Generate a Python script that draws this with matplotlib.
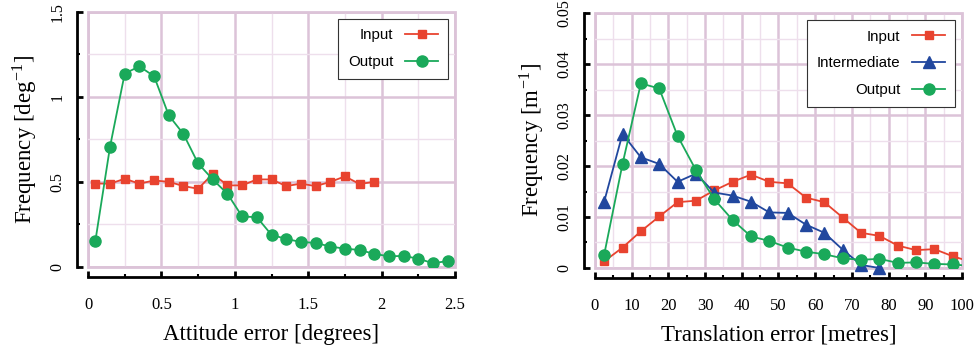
import matplotlib.pyplot as plt
from matplotlib.patches import Rectangle
from matplotlib.ticker import MultipleLocator

plt.rcParams["font.family"] = "Liberation Serif"
plt.rcParams["mathtext.fontset"] = "stix"

grid_major = '#dcc3d8'
grid_minor = '#eedfec'
red = '#e8432f'
green = '#1aa95a'
blue = '#21479e'

# attitude error histogram (bin centres, degrees)
att_x = [0.05, 0.15, 0.25, 0.35, 0.45, 0.55, 0.65, 0.75, 0.85, 0.95,
         1.05, 1.15, 1.25, 1.35, 1.45, 1.55, 1.65, 1.75, 1.85, 1.95,
         2.05, 2.15, 2.25, 2.35, 2.45]
att_input = [0.491, 0.49, 0.519, 0.49, 0.509, 0.501, 0.476, 0.46, 0.548, 0.48,
             0.48, 0.515, 0.515, 0.476, 0.49, 0.476, 0.50, 0.533, 0.488, 0.501]
att_output = [0.153, 0.708, 1.138, 1.18, 1.122, 0.892, 0.782, 0.609, 0.515, 0.43,
              0.297, 0.293, 0.189, 0.165, 0.147, 0.142, 0.12, 0.108, 0.10, 0.077,
              0.063, 0.065, 0.049, 0.022, 0.035]

# translation error histogram (bin centres, metres)
tr_x = [2.5, 7.5, 12.5, 17.5, 22.5, 27.5, 32.5, 37.5, 42.5, 47.5,
        52.5, 57.5, 62.5, 67.5, 72.5, 77.5, 82.5, 87.5, 92.5, 97.5, 102.5]
tr_input = [0.0013, 0.004, 0.0072, 0.0101, 0.0129, 0.0132, 0.0152, 0.0169, 0.0183, 0.0169,
            0.0166, 0.0138, 0.0129, 0.0099, 0.0069, 0.0063, 0.0044, 0.0035, 0.0037, 0.0023, 0.0012]
tr_inter = [0.013, 0.0263, 0.0217, 0.0204, 0.0169, 0.0185, 0.0148, 0.0142, 0.013, 0.0109,
            0.0108, 0.0085, 0.0069, 0.0036, 0.0006, 0.0]
tr_output = [0.0026, 0.0204, 0.0362, 0.0352, 0.0259, 0.0192, 0.0135, 0.0094, 0.0062, 0.0053,
             0.004, 0.0032, 0.0027, 0.0019, 0.0016, 0.0018, 0.001, 0.0011, 0.0008, 0.0007, 0.0004]


def style_axes(ax, xmaj, xmin, ymaj, ymin):
    for side in ['top', 'right']:
        ax.spines[side].set_visible(False)
    ax.spines['left'].set_position(('outward', 8))
    ax.spines['bottom'].set_position(('outward', 7.5))
    for side in ['left', 'bottom']:
        ax.spines[side].set_linewidth(2)
        ax.spines[side].set_color('black')
    ax.xaxis.set_major_locator(MultipleLocator(xmaj))
    ax.xaxis.set_minor_locator(MultipleLocator(xmin))
    ax.yaxis.set_major_locator(MultipleLocator(ymaj))
    ax.yaxis.set_minor_locator(MultipleLocator(ymin))
    ax.tick_params(which='major', direction='in', length=4, width=2)
    ax.tick_params(which='minor', direction='in', length=2.5, width=1.5)
    ax.tick_params(axis='x', which='major', pad=14, labelsize=12)
    ax.tick_params(axis='y', which='major', pad=8, labelsize=11.5)
    ax.grid(which='major', color=grid_major, linewidth=1.8, zorder=0)
    ax.grid(which='minor', color=grid_minor, linewidth=1.0, zorder=0)
    ax.set_axisbelow(True)
    ax.add_patch(Rectangle((0, 0), 1, 1, transform=ax.transAxes, fill=False,
                           edgecolor=grid_major, linewidth=2, clip_on=False, zorder=0.5))


def add_legend(ax):
    leg = ax.legend(loc='upper right', markerfirst=False, fancybox=False,
                    edgecolor='#333333', framealpha=1, borderpad=0.65,
                    labelspacing=0.85, handlelength=2.2, borderaxespad=0.45,
                    prop={'family': 'Liberation Sans', 'size': 10.8})
    leg.get_frame().set_linewidth(0.8)


fig = plt.figure(figsize=(9.77, 3.48), dpi=100)
ax1 = fig.add_axes([0.0901, 0.2328, 0.3756, 0.7328])
ax2 = fig.add_axes([0.609, 0.2299, 0.3756, 0.7327])

# left panel
ax1.plot(att_x[:len(att_input)], att_input, color=red, marker='s', markersize=5.5,
         linewidth=1.3, label='Input', zorder=3)
ax1.plot(att_x, att_output, color=green, marker='o', markersize=8,
         linewidth=1.3, label='Output', zorder=3)
ax1.set_xlim(0, 2.5)
ax1.set_ylim(0, 1.5)
style_axes(ax1, 0.5, 0.25, 0.5, 0.25)
ax1.set_xticks([0, 0.5, 1, 1.5, 2, 2.5])
ax1.set_xticklabels(['0', '0.5', '1', '1.5', '2', '2.5'])
ax1.set_yticks([0, 0.5, 1, 1.5])
ax1.set_yticklabels(['0', '0.5', '1', '1.5'], rotation=90, va='center')
ax1.set_xlabel('Attitude error [degrees]', fontsize=16.5, labelpad=8)
ax1.set_ylabel(r'Frequency [deg$^{\mathregular{-1}}$]', fontsize=16.5, labelpad=8)
add_legend(ax1)

# right panel
ax2.plot(tr_x, tr_input, color=red, marker='s', markersize=5.5,
         linewidth=1.3, label='Input', zorder=3)
ax2.plot(tr_x[:len(tr_inter)], tr_inter, color=blue, marker='^', markersize=8,
         linewidth=1.3, label='Intermediate', zorder=3, clip_on=False)
ax2.plot(tr_x, tr_output, color=green, marker='o', markersize=8,
         linewidth=1.3, label='Output', zorder=3)
ax2.set_xlim(0, 100)
ax2.set_ylim(0, 0.05)
style_axes(ax2, 10, 5, 0.01, 0.005)
ax2.set_yticks([0, 0.01, 0.02, 0.03, 0.04, 0.05])
ax2.set_yticklabels(['0', '0.01', '0.02', '0.03', '0.04', '0.05'], rotation=90, va='center')
ax2.set_xlabel('Translation error [metres]', fontsize=16.5, labelpad=8)
ax2.set_ylabel(r'Frequency [m$^{\mathregular{-1}}$]', fontsize=16.5, labelpad=8)
add_legend(ax2)

plt.savefig('out.png', dpi=100)
